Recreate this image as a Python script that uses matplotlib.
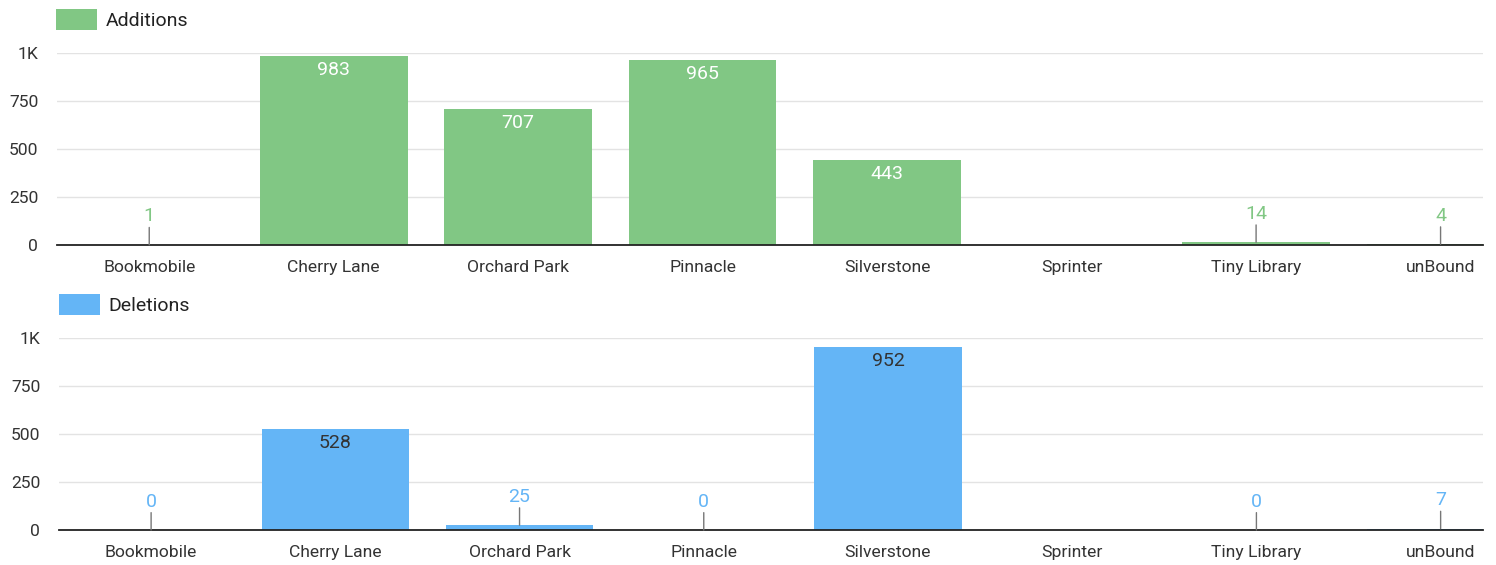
import numpy as np
import matplotlib
matplotlib.use("Agg")
import matplotlib.pyplot as plt
from matplotlib.ticker import FixedLocator, FuncFormatter

plt.rcParams['font.family'] = ['Roboto', 'DejaVu Sans']

categories = ["Bookmobile", "Cherry Lane", "Orchard Park", "Pinnacle",
              "Silverstone", "Sprinter", "Tiny Library", "unBound"]
additions = [1, 983, 707, 965, 443, np.nan, 14, 4]
deletions = [0, 528, 25, 0, 952, np.nan, 0, 7]
y_ticks = [0, 250, 500, 750, 1000]

GREEN = "#81C784"
BLUE = "#64B5F6"
TEXT = "#333333"
GRID = "#e3e3e3"

W, H = 1496, 565
fig = plt.figure(figsize=(W / 100, H / 100), dpi=100)


def panel(rect, values, color, name, inside_color, legend_xy):
    ax = fig.add_axes(rect)
    x = np.arange(len(categories))
    vals = np.array(values, dtype=float)
    bars = ax.bar(x, np.nan_to_num(vals), width=0.8, color=color, label=name,
                  zorder=2)
    ax.set_xlim(-0.5, 7.23)
    ax.set_ylim(0, 1000)
    ax.yaxis.set_major_locator(FixedLocator(y_ticks))
    ax.yaxis.set_major_formatter(FuncFormatter(
        lambda v, p: "1K" if v >= 1000 else f"{int(v)}"))
    ax.set_xticks(x)
    ax.set_xticklabels(categories)
    ax.grid(axis='y', color=GRID, linewidth=1.0, zorder=0)
    ax.set_axisbelow(True)
    for s in ("top", "right", "left"):
        ax.spines[s].set_visible(False)
    ax.spines["bottom"].set_color("#222222")
    ax.spines["bottom"].set_linewidth(1.3)
    ax.spines["bottom"].set_zorder(3)
    ax.tick_params(axis='both', length=0, labelsize=12.6, labelcolor=TEXT)
    ax.tick_params(axis='x', pad=10.5)
    ax.tick_params(axis='y', pad=13.5)

    for xi, v in zip(x, vals):
        if np.isnan(v):
            continue
        if v >= 100:
            ax.annotate(f"{int(v)}", (xi, v), xytext=(0, -10),
                        textcoords="offset points", ha="center", va="center",
                        fontsize=14, color=inside_color, zorder=4)
        else:
            ax.annotate("", (xi, v), xytext=(0, 12.5),
                        textcoords="offset points",
                        arrowprops=dict(arrowstyle="-", color="#777777",
                                        lw=1.0, shrinkA=0, shrinkB=0),
                        zorder=4)
            ax.annotate(f"{int(v)}", (xi, v), xytext=(0, 20.5),
                        textcoords="offset points", ha="center", va="center",
                        fontsize=14, color=color, zorder=4)

    ax.legend(handles=[bars], loc="upper left",
              bbox_to_anchor=legend_xy, bbox_transform=fig.transFigure,
              frameon=False, fontsize=14, handlelength=2.1, handleheight=1.25,
              handletextpad=0.45, borderpad=0, borderaxespad=0,
              labelcolor="#222222")
    return ax


panel([57 / W, 1 - 245 / H, (1483 - 57) / W, 192 / H], additions, GREEN,
      "Additions", "white", (56 / W, 1 - 9 / H))
panel([59 / W, 1 - 530 / H, (1483 - 59) / W, 192 / H], deletions, BLUE,
      "Deletions", "#333333", (59 / W, 1 - 294 / H))

fig.savefig("out.png", dpi=100)
